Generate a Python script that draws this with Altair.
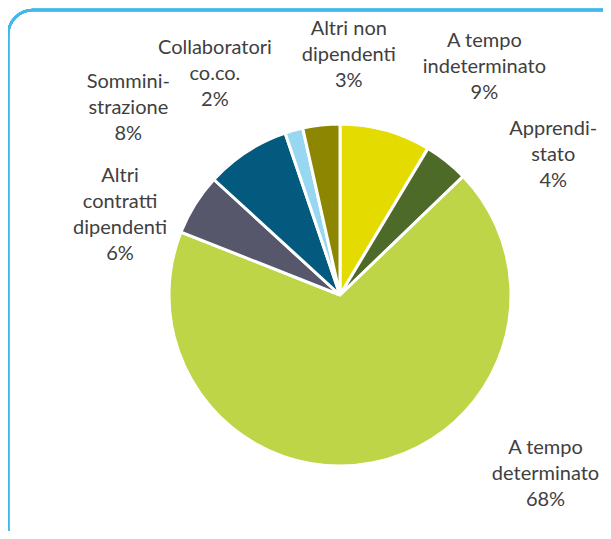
import altair as alt
import pandas as pd

# ---- data ----
categories = [
    "A tempo indeterminato",
    "Apprendistato",
    "A tempo determinato",
    "Altri contratti dipendenti",
    "Somministrazione",
    "Collaboratori co.co.",
    "Altri non dipendenti",
]
values = [8.6, 4.2, 68.2, 5.8, 8.0, 1.7, 3.5]
pct_labels = ["9%", "4%", "68%", "6%", "8%", "2%", "3%"]
label_lines = [
    ["A tempo", "indeterminato"],
    ["Apprendi-", "stato"],
    ["A tempo", "determinato"],
    ["Altri", "contratti", "dipendenti"],
    ["Sommini-", "strazione"],
    ["Collaboratori", "co.co."],
    ["Altri non", "dipendenti"],
]

# ---- styling ----
colors = ["#E4DC00", "#4E6A29", "#BED548", "#57576B", "#04597F", "#98D7F2", "#8C8600"]
# per-label placement nudges (pixels) relative to the slice mid-angle anchor
label_nudge = [(83, -6), (70, 40), (161, -47), (-25, 42), (-86, 6), (-63, 0), (34, -11)]
LINE_H = 26

df = pd.DataFrame({
    "idx": list(range(len(categories))),
    "category": categories,
    "value": values,
    "label": ["\n".join(lines + [p]) for lines, p in zip(label_lines, pct_labels)],
})
total = float(sum(values))

theta_scale = alt.Scale(domain=[0, total])

frame = alt.Chart(df).mark_rect(
    fillOpacity=0, strokeWidth=2.5, cornerRadius=25
).encode(stroke=alt.value("#44B7EA"))

arcs = alt.Chart(df).mark_arc(radius=171, stroke="white", strokeWidth=3).encode(
    theta=alt.Theta("value:Q", stack=True, scale=theta_scale),
    color=alt.Color("category:N", scale=alt.Scale(domain=categories, range=colors), legend=None),
    order=alt.Order("idx:Q"),
)

layers = [frame, arcs]
for i, (dx, dy) in enumerate(label_nudge):
    # Vega anchors the first line of a multi-line text: shift so the block is centred
    dy_block = dy - len(label_lines[i]) * LINE_H / 2
    t = (
        alt.Chart(df)
        .transform_window(cum="sum(value)", sort=[alt.SortField("idx")], frame=[None, 0])
        .transform_calculate(mid="datum.cum - datum.value / 2")
        .transform_filter(alt.datum.idx == i)
        .mark_text(
            radius=230, dx=dx, dy=dy_block, lineBreak="\n", lineHeight=LINE_H,
            font="Lato", fontSize=20, color="#404040", align="center", baseline="middle",
        )
        .encode(
            theta=alt.Theta("mid:Q", stack=None, scale=theta_scale),
            text="label:N",
        )
    )
    layers.append(t)

chart = (
    alt.layer(*layers)
    .properties(
        width=664, height=570,
        padding={"left": 0, "top": 2, "right": -69, "bottom": -49},
        autosize=alt.AutoSizeParams(type="none"),
        background="white",
    )
    .configure_view(stroke=None)
)

chart.save("out.html", embed_options={"renderer": "svg", "actions": False})
